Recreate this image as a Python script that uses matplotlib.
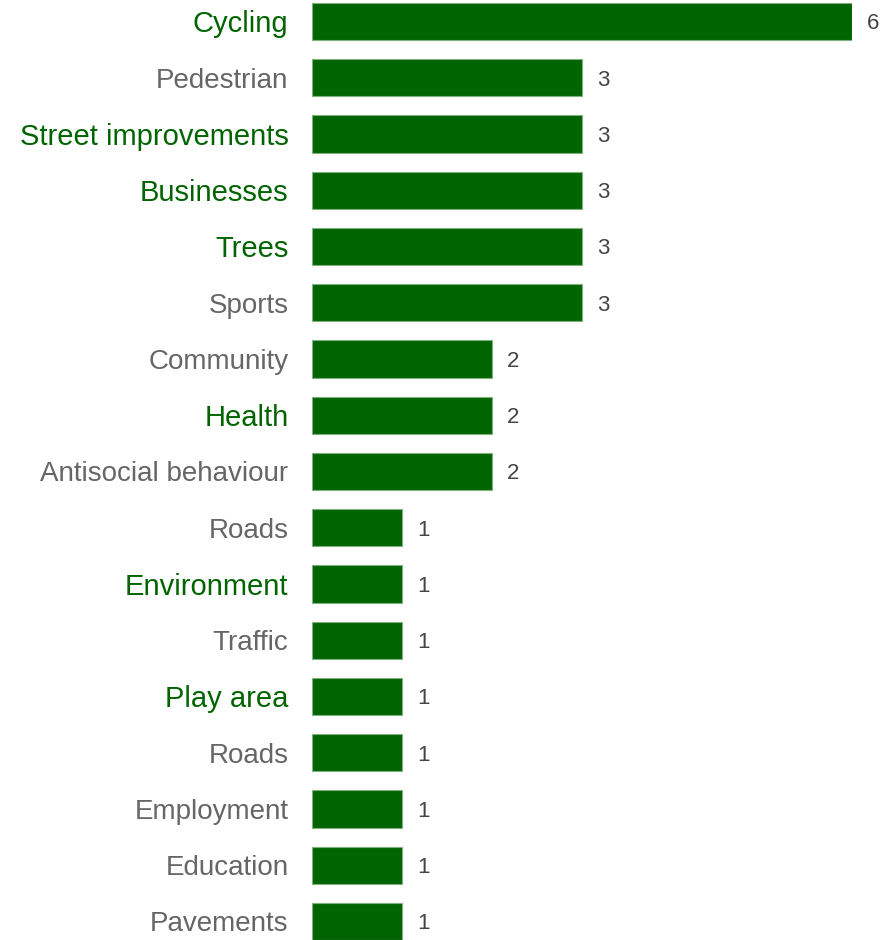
import matplotlib.pyplot as plt
import numpy as np

plt.rcParams['font.family'] = ['Liberation Sans', 'DejaVu Sans']

categories = ["Cycling", "Pedestrian", "Street improvements", "Businesses", "Trees",
              "Sports", "Community", "Health", "Antisocial behaviour", "Roads",
              "Environment", "Traffic", "Play area", "Roads", "Employment",
              "Education", "Pavements"]
counts = [6, 3, 3, 3, 3, 3, 2, 2, 2, 1, 1, 1, 1, 1, 1, 1, 1]
# True where the label is highlighted in green
highlight = [True, False, True, True, True, False, False, True, False, False,
             True, False, True, False, False, False, False]

bar_color = '#006400'
green_text = '#006400'
gray_text = '#666666'

fig = plt.figure(figsize=(8.9, 9.4), dpi=100)
ax = fig.add_axes([312 / 890, 0, 540 / 890, 1])

y = np.arange(len(categories))
ax.barh(y, counts, height=0.663, color=bar_color, edgecolor='#7fb07f', linewidth=0.8)

ax.set_xlim(0, 6)
ax.set_ylim(16.33, -0.382)

ax.set_yticks(y)
ax.set_yticklabels(categories)
ax.tick_params(axis='y', length=0, pad=17)
ax.set_xticks([])
for lbl, hl in zip(ax.get_yticklabels(), highlight):
    if hl:
        lbl.set_color(green_text)
        lbl.set_fontsize(21)
    else:
        lbl.set_color(gray_text)
        lbl.set_fontsize(20)

# value labels to the right of each bar, digits centred on the bar
val_size = 16
for yi, c in zip(y, counts):
    ax.annotate(str(c), (c, yi), xytext=(11, -0.358 * val_size),
                textcoords='offset points', ha='left', va='baseline',
                fontsize=val_size, color='#444444', annotation_clip=False)

for s in ax.spines.values():
    s.set_visible(False)

fig.savefig('out.png', dpi=100)
